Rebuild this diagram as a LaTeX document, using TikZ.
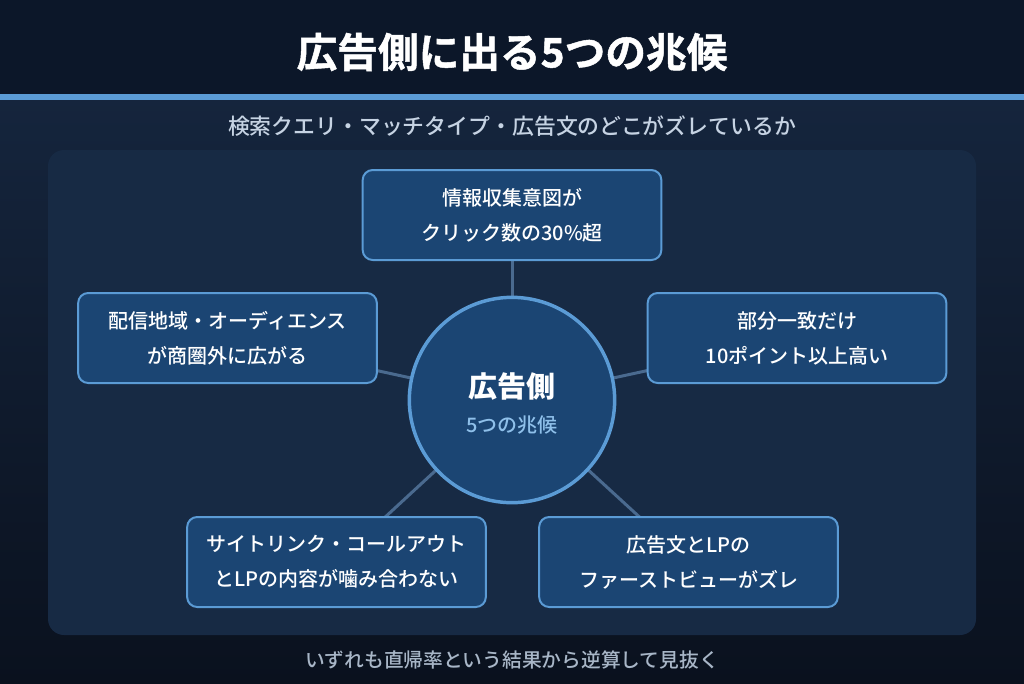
\documentclass[tikz,border=0pt]{standalone}
\usepackage{fontspec}
\setmainfont{Noto Sans CJK JP}
\newfontfamily\jpmed{Noto Sans CJK JP}[UprightFont=* Medium]
\newfontfamily\jpblack{Noto Sans CJK JP}[UprightFont=* Bold, FakeBold=1.2]
\definecolor{topbg}{HTML}{0C1729}
\definecolor{midbg}{HTML}{15253D}
\definecolor{botbg}{HTML}{0A111E}
\definecolor{panelc}{HTML}{172A44}
\definecolor{accent}{HTML}{5B9BD5}
\definecolor{boxfill}{HTML}{1B4573}
\definecolor{linkc}{HTML}{4A6A8F}
\definecolor{subc}{HTML}{C6D3E3}
\definecolor{footc}{HTML}{A8B6C7}
\definecolor{hubsub}{HTML}{8FC0EA}
\tikzset{
  itembox/.style={draw=accent, line width=1.5pt, fill=boxfill, rounded corners=7.5pt,
    minimum width=224pt, minimum height=67.5pt, inner sep=0pt,
    text=white, font=\jpmed\fontsize{15pt}{26.25pt}\selectfont, align=center},
  link/.style={draw=linkc, line width=2.25pt},
}
\begin{document}
\begin{tikzpicture}[x=0.75pt,y=-0.75pt]
\useasboundingbox (0,0) rectangle (1024,683);
% background
\shade[top color=midbg, bottom color=botbg] (0,96) rectangle (1024,683);
\fill[topbg] (0,0) rectangle (1024,94);
\fill[accent] (0,94) rectangle (1024,100);
\node[text=white, font=\jpblack\fontsize{30.5pt}{36pt}\selectfont] (title) at (512,52) {広告側に出る5つの兆候};
\node[text=subc, font=\jpmed\fontsize{16.4pt}{20pt}\selectfont] (sub) at (512,126) {検索クエリ・マッチタイプ・広告文のどこがズレているか};
% panel
\fill[panelc, rounded corners=12pt] (48,150) rectangle (976,635);
% hub centre and links (drawn first, under the boxes)
\coordinate (hubc) at (512,400);
\coordinate (c1) at (512,215);
\coordinate (c2) at (227.5,338);
\coordinate (c3) at (797,338);
\coordinate (c4) at (336.5,562);
\coordinate (c5) at (688.5,562);
\draw[link] (hubc) -- (c1);
\draw[link] (hubc) -- (c2);
\draw[link] (hubc) -- (c3);
\draw[link] (hubc) -- (c4);
\draw[link] (hubc) -- (c5);
% boxes
\node[itembox] (b1) at (c1) {情報収集意図が\\クリック数の30\%超};
\node[itembox] (b2) at (c2) {配信地域・オーディエンス\\が商圏外に広がる};
\node[itembox] (b3) at (c3) {部分一致だけ\\10ポイント以上高い};
\node[itembox] (b4) at (c4) {サイトリンク・コールアウト\\とLPの内容が噛み合わない};
\node[itembox] (b5) at (c5) {広告文とLPの\\ファーストビューがズレ};
\node[circle, draw=accent, line width=2.6pt, fill=boxfill, minimum size=154pt, inner sep=0pt] (hub) at (hubc) {};
\node[text=white, font=\fontsize{21.75pt}{26pt}\selectfont\bfseries] (hubt) at (512,386) {広告側};
\node[text=hubsub, font=\jpmed\fontsize{15pt}{18pt}\selectfont] (hubs) at (512,425) {5つの兆候};
\node[text=footc, font=\jpmed\fontsize{14.8pt}{18pt}\selectfont] (foot) at (512,660) {いずれも直帰率という結果から逆算して見抜く};
\end{tikzpicture}
\end{document}
